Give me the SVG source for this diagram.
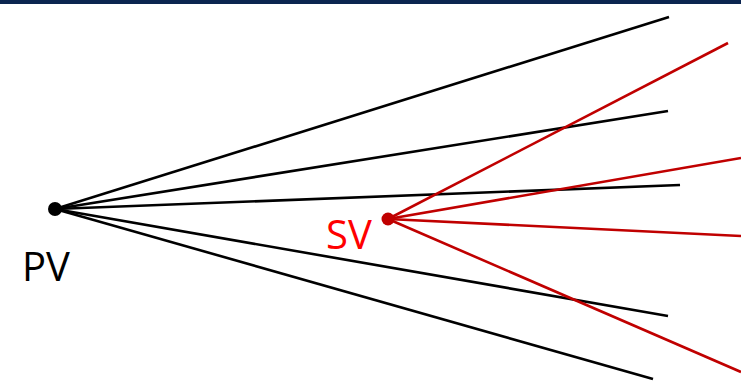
<svg xmlns="http://www.w3.org/2000/svg" width="741" height="385" viewBox="0 0 741 385">
<style>
.blk{stroke:#000;stroke-width:2.6;fill:none}
.red{stroke:#c00000;stroke-width:2.6;fill:none}
.lbl{font-family:"Open Sans","Liberation Sans",sans-serif;font-size:40px}
</style>
<rect x="0" y="0" width="741" height="4" fill="#0b2550"/>
<g id="connectors">
<line class="blk" x1="55" y1="209" x2="669" y2="17"/>
<line class="blk" x1="55" y1="209" x2="668" y2="111"/>
<line class="blk" x1="55" y1="209" x2="680" y2="185"/>
<line class="blk" x1="55" y1="209" x2="668" y2="316"/>
<line class="blk" x1="55" y1="209" x2="653" y2="379"/>
<line class="red" x1="388" y1="219" x2="728" y2="43"/>
<line class="red" x1="388" y1="219" x2="741" y2="158"/>
<line class="red" x1="388" y1="219" x2="741" y2="236"/>
<line class="red" x1="388" y1="219" x2="741" y2="372"/>
</g>
<g id="PV">
<circle cx="55" cy="209" r="7" fill="#000"/>
<text class="lbl" x="22" y="281" fill="#000">PV</text>
</g>
<g id="SV">
<circle cx="388" cy="219" r="6.5" fill="#c00000"/>
<text class="lbl" x="326" y="249" fill="#ff0000">SV</text>
</g>
</svg>
